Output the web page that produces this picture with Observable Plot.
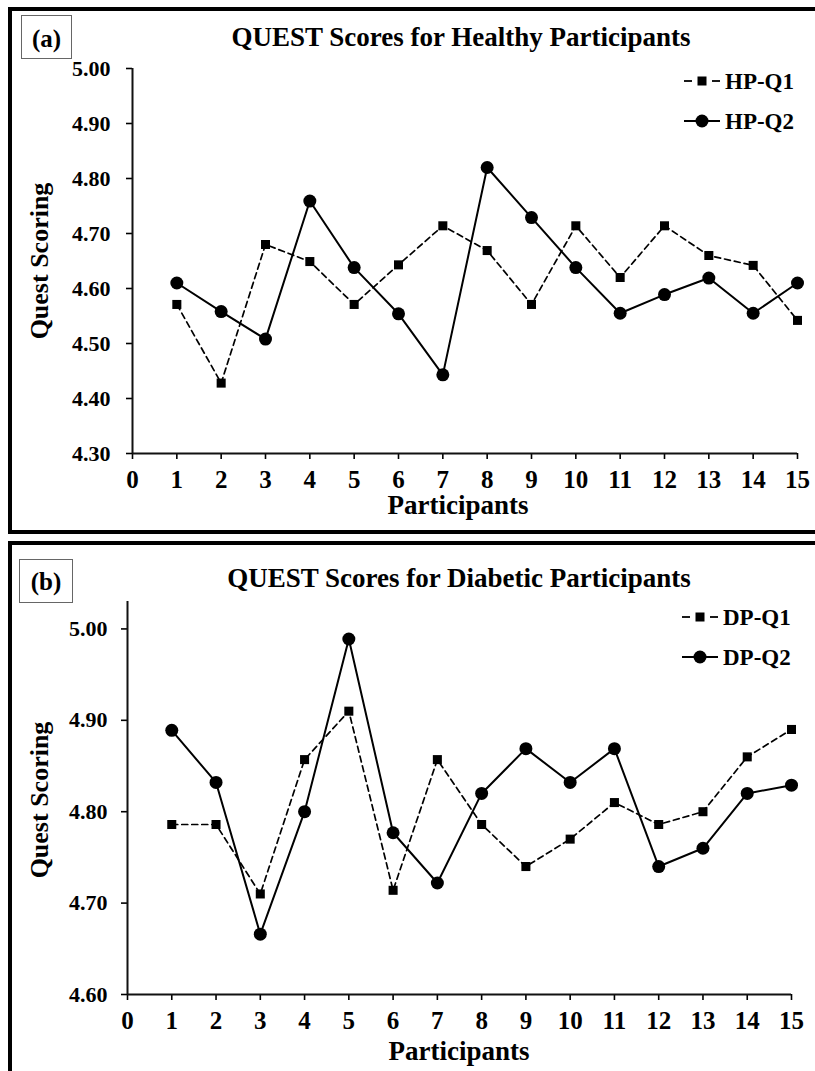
<!DOCTYPE html>
<html>
<head>
<meta charset="utf-8">
<script src="https://cdn.jsdelivr.net/npm/d3@7"></script>
<script src="https://cdn.jsdelivr.net/npm/@observablehq/plot@0.6"></script>
<style>
  html, body { margin: 0; padding: 0; background: #fff; }
  #page { position: relative; width: 815px; height: 1071px; overflow: hidden; background: #fff;
          font-family: "Liberation Serif", "Times New Roman", serif; font-weight: bold; }
  .panel { position: absolute; left: 8px; width: 900px; border: 4px solid #000; box-sizing: border-box; }
  .tag { position: absolute; border: 1.5px solid #666; box-sizing: border-box; }
  svg.plot { position: absolute; left: 0; }
  #overlay { position: absolute; left: 0; top: 0; pointer-events: none; }
</style>
</head>
<body>
<div id="page">
  <div class="panel" style="top:7px;height:527px;"></div>
  <div class="panel" style="top:541px;height:600px;"></div>
  <div class="tag" style="left:21px;top:15px;width:51px;height:44px;"></div>
  <div class="tag" style="left:19px;top:559px;width:54px;height:44px;"></div>
</div>
<script>
// ---------- data ----------
const participants = [1, 2, 3, 4, 5, 6, 7, 8, 9, 10, 11, 12, 13, 14, 15];
const hpQ1 = [4.571, 4.428, 4.680, 4.649, 4.571, 4.643, 4.714, 4.669, 4.571, 4.714, 4.620, 4.714, 4.660, 4.642, 4.542];
const hpQ2 = [4.610, 4.558, 4.508, 4.759, 4.638, 4.554, 4.443, 4.820, 4.729, 4.638, 4.555, 4.589, 4.619, 4.555, 4.610];
const dpQ1 = [4.786, 4.786, 4.710, 4.857, 4.910, 4.714, 4.857, 4.786, 4.740, 4.770, 4.810, 4.786, 4.800, 4.860, 4.890];
const dpQ2 = [4.889, 4.832, 4.666, 4.800, 4.989, 4.777, 4.722, 4.820, 4.869, 4.832, 4.869, 4.740, 4.760, 4.820, 4.829];
const xTicks = [0, 1, 2, 3, 4, 5, 6, 7, 8, 9, 10, 11, 12, 13, 14, 15];
const yTicksA = [4.30, 4.40, 4.50, 4.60, 4.70, 4.80, 4.90, 5.00];
const yTicksB = [4.60, 4.70, 4.80, 4.90, 5.00];
const titleA = "QUEST Scores for Healthy Participants";
const titleB = "QUEST Scores for Diabetic Participants";
const xLabel = "Participants";
const yLabel = "Quest Scoring";
const seriesA = ["HP-Q1", "HP-Q2"];
const seriesB = ["DP-Q1", "DP-Q2"];

const FONT = '"Liberation Serif", "Times New Roman", serif';

function rows(q) { return participants.map((p, i) => ({x: p, y: q[i]})); }

function panel({q1, q2, yDomain, yTicks, height, marginLeft, marginRight, marginTop, marginBottom, yPad, top}) {
  const svg = Plot.plot({
    width: 815,
    height,
    marginLeft, marginRight, marginTop, marginBottom,
    style: {fontFamily: FONT, fontWeight: "bold", background: "none", color: "#000", overflow: "visible"},
    x: {domain: [0, 15]},
    y: {domain: yDomain},
    marks: [
      Plot.axisX({ticks: xTicks, tickSize: 6, tickPadding: 11, fontSize: 25, label: null, tickFormat: d => String(d), strokeWidth: 1.6}),
      Plot.axisY({ticks: yTicks, tickSize: 6, tickPadding: yPad, fontSize: 22, label: null, tickFormat: d => d.toFixed(2), strokeWidth: 1.6}),
      Plot.ruleX([0], {stroke: "#111", strokeWidth: 2}),
      Plot.ruleY([yDomain[0]], {stroke: "#111", strokeWidth: 2}),
      Plot.line(rows(q1), {x: "x", y: "y", stroke: "#000", strokeWidth: 1.7, strokeDasharray: "6,4"}),
      Plot.line(rows(q2), {x: "x", y: "y", stroke: "#000", strokeWidth: 2}),
      Plot.dot(rows(q1), {x: "x", y: "y", symbol: "square", r: 5.1, fill: "#000", stroke: "none"}),
      Plot.dot(rows(q2), {x: "x", y: "y", symbol: "circle", r: 6.5, fill: "#000", stroke: "none"})
    ]
  });
  svg.classList.add("plot");
  svg.style.position = "absolute";
  svg.style.left = "0px";
  svg.style.top = top + "px";
  document.getElementById("page").appendChild(svg);
}

panel({q1: hpQ1, q2: hpQ2, yDomain: [4.3, 5.0], yTicks: yTicksA, height: 534,
       marginLeft: 132, marginRight: 18, marginTop: 68, marginBottom: 81, yPad: 16, top: 0});
panel({q1: dpQ1, q2: dpQ2, yDomain: [4.6, 5.03], yTicks: yTicksB, height: 530,
       marginLeft: 127, marginRight: 24, marginTop: 60, marginBottom: 77, yPad: 14, top: 541});

// ---------- overlay texts & legends ----------
const ov = d3.select("#page").append("svg").attr("id", "overlay")
  .attr("width", 815).attr("height", 1071)
  .style("font-family", FONT).style("font-weight", "bold");

function txt(x, y, s, size, anchor = "middle", rotate = 0) {
  ov.append("text").attr("transform", `translate(${x},${y}) rotate(${rotate})`)
    .attr("text-anchor", anchor).attr("font-size", size).attr("fill", "#000").text(s);
}

txt(46.5, 47, "(a)", 25);
txt(46, 590, "(b)", 25);
txt(461, 46, titleA, 27);
txt(459, 587, titleB, 27);
txt(458, 514, xLabel, 27);
txt(459, 1060, xLabel, 27);
txt(48, 261, yLabel, 26, "middle", -90);
txt(48, 800, yLabel, 26, "middle", -90);

function legend(x0, yBase1, yBase2, names) {
  const cy1 = yBase1 - 8, cy2 = yBase2 - 8;
  const g = ov.append("g");
  // dashed series swatch
  g.append("line").attr("x1", x0).attr("x2", x0 + 8).attr("y1", cy1).attr("y2", cy1).attr("stroke", "#000").attr("stroke-width", 1.8);
  g.append("line").attr("x1", x0 + 28).attr("x2", x0 + 36).attr("y1", cy1).attr("y2", cy1).attr("stroke", "#000").attr("stroke-width", 1.8);
  g.append("rect").attr("x", x0 + 13.5).attr("y", cy1 - 4.5).attr("width", 9).attr("height", 9).attr("fill", "#000");
  // solid series swatch
  g.append("line").attr("x1", x0).attr("x2", x0 + 36).attr("y1", cy2).attr("y2", cy2).attr("stroke", "#000").attr("stroke-width", 2);
  g.append("circle").attr("cx", x0 + 18).attr("cy", cy2).attr("r", 6.5).attr("fill", "#000");
  txt(x0 + 41, yBase1, names[0], 23, "start");
  txt(x0 + 41, yBase2, names[1], 23, "start");
}
legend(684, 89, 129, seriesA);
legend(682, 625, 665, seriesB);
</script>
</body>
</html>
